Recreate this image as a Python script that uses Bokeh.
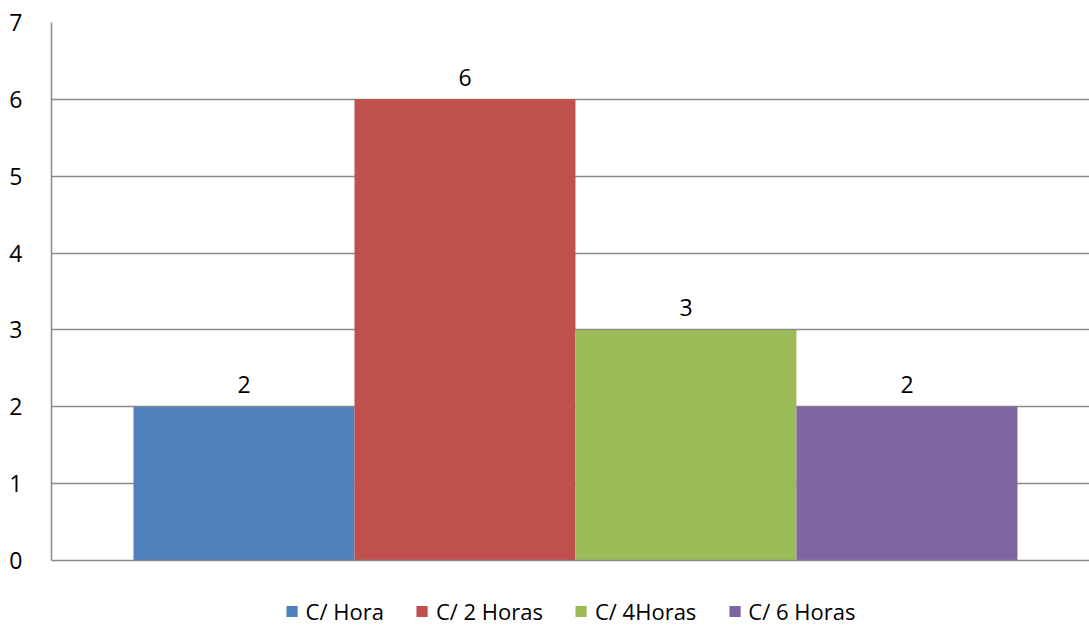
from bokeh.plotting import figure
from bokeh.models import ColumnDataSource, Range1d, FixedTicker, Legend, LegendItem, Span
from bokeh.core.properties import value
from bokeh.embed import file_html
from bokeh.resources import INLINE

# Series: one bar per interval
categories = ["C/ Hora", "C/ 2 Horas", "C/ 4Horas", "C/ 6 Horas"]
counts = [2, 6, 3, 2]
colors = ["#4F81BD", "#C0504D", "#9BBB59", "#8064A2"]
y_ticks = [0, 1, 2, 3, 4, 5, 6, 7]

FONT = "Open Sans"
AXIS_GRAY = "#8A8A8A"
positions = [i + 0.5 for i in range(len(categories))]

src = ColumnDataSource(dict(x=positions, top=counts, color=colors,
                            label=[str(v) for v in counts], name=categories))

# The frame runs to the bottom of the canvas so the legend can sit under the baseline
p = figure(width=1089, height=627, output_backend="svg", toolbar_location=None,
           x_range=Range1d(-0.371, 4.326), y_range=Range1d(-0.8717, 7),
           min_border_left=51, min_border_right=0, min_border_top=22,
           min_border_bottom=0)
p.outline_line_color = None
p.background_fill_color = "white"
p.border_fill_color = "white"

p.xaxis.visible = False

p.yaxis.ticker = FixedTicker(ticks=y_ticks)
p.yaxis.bounds = (0, 7)
p.yaxis.axis_line_color = AXIS_GRAY
p.yaxis.axis_line_width = 1.5
p.yaxis.major_tick_line_color = None
p.yaxis.minor_tick_line_color = None
p.yaxis.major_tick_out = 0
p.yaxis.major_label_standoff = 29
p.yaxis.major_label_text_font = FONT
p.yaxis.major_label_text_font_size = "23px"
p.yaxis.major_label_text_color = "black"

p.xgrid.grid_line_color = None
p.ygrid.ticker = FixedTicker(ticks=y_ticks[1:])
p.ygrid.grid_line_color = AXIS_GRAY
p.ygrid.grid_line_width = 1.5

bars = p.vbar(x="x", top="top", bottom=0, width=1.0, fill_color="color",
              line_color=None, source=src)

# Category baseline on top of the bars
p.add_layout(Span(location=0, dimension="width", line_color=AXIS_GRAY,
                  line_width=1.5, level="overlay"))

p.text(x="x", y="top", text="label", source=src, text_align="center",
       text_baseline="alphabetic", y_offset=-22, text_font=value(FONT),
       text_font_size="23px", text_color="black")

# Legend under the baseline
items = []
for i, name in enumerate(categories):
    r = p.vbar(x=[positions[i]], top=[0], bottom=0, width=0.0,
               fill_color=colors[i], line_color=None)
    items.append(LegendItem(label=name, renderers=[r]))

legend = Legend(items=items, orientation="horizontal", location="bottom_center",
                glyph_width=14, glyph_height=14, label_standoff=7, spacing=31,
                label_text_font=FONT, label_text_font_size="22px",
                label_text_color="black", border_line_color=None,
                background_fill_alpha=0, padding=0, margin=1)
p.add_layout(legend, "center")

with open("out.html", "w") as f:
    f.write(file_html(p, INLINE))
